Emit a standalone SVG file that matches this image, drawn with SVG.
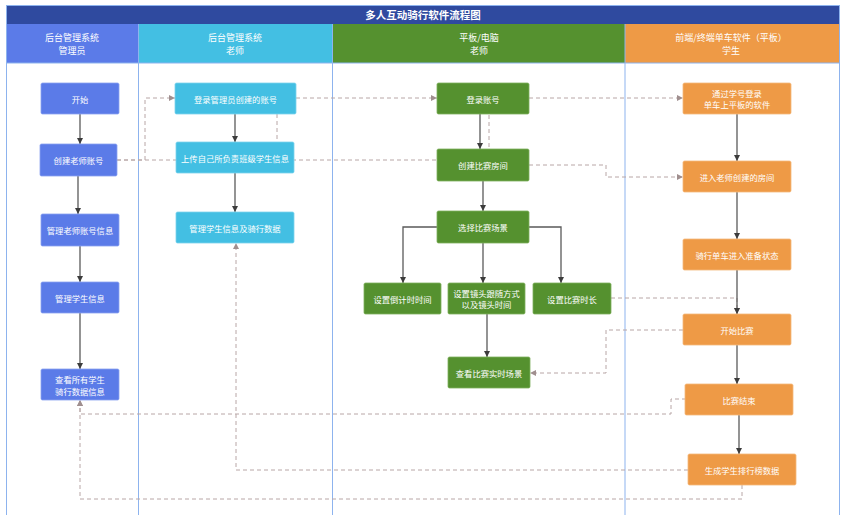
<svg xmlns="http://www.w3.org/2000/svg" width="855" height="515" viewBox="0 0 855 515">
<style>
text{font-family:"Noto Sans CJK SC","Noto Sans",sans-serif;fill:#fff;text-anchor:middle;dominant-baseline:central}
.h{font-size:9px}
.n{font-size:8.3px}
.lane{stroke:#8db3ee;stroke-width:1;fill:none}
.s{stroke:#5a5a5a;stroke-width:1.3;fill:none;marker-end:url(#as)}
.d{stroke:#b8a6a6;stroke-width:1;stroke-dasharray:4 3;fill:none}
.da{marker-end:url(#ad)}
.b1{fill:#5b7be8;stroke:#8aa2f0;stroke-width:0.8}
.b2{fill:#43bfe3;stroke:#7dd3ec;stroke-width:0.8}
.b3{fill:#55912f;stroke:#7fb05d;stroke-width:0.8}
.b4{fill:#ee9a46;stroke:#f4b97c;stroke-width:0.8}
</style>
<defs>
<marker id="as" viewBox="0 0 8 8" refX="8" refY="4" markerWidth="6" markerHeight="6" markerUnits="userSpaceOnUse" orient="auto"><path d="M0,0L8,4L0,8z" fill="#3c3c3c"/></marker>
<marker id="ad" viewBox="0 0 8 8" refX="8" refY="4" markerWidth="6" markerHeight="6" markerUnits="userSpaceOnUse" orient="auto"><path d="M0,0L8,4L0,8z" fill="#a08f8f"/></marker>
</defs>
<rect width="855" height="515" fill="#fff"/>
<g id="frame">
<rect x="6" y="5" width="834" height="19" fill="#2f4a9f"/>
<text x="423" y="14.5" style="font-size:10.5px;font-weight:bold">多人互动骑行软件流程图</text>
<rect x="6" y="24" width="132.5" height="39" fill="#5b7be8"/>
<rect x="138.5" y="24" width="194" height="39" fill="#43bfe3"/>
<rect x="332.5" y="24" width="292.5" height="39" fill="#55912f"/>
<rect x="625" y="24" width="215" height="39" fill="#ee9a46"/>
<text class="h" x="72" y="37.5">后台管理系统</text>
<text class="h" x="72" y="50.5">管理员</text>
<text class="h" x="235" y="37.5">后台管理系统</text>
<text class="h" x="235" y="50.5">老师</text>
<text class="h" x="479" y="37.5">平板/电脑</text>
<text class="h" x="479" y="50.5">老师</text>
<text class="h" x="731" y="37.5">前端/终端单车软件（平板）</text>
<text class="h" x="731" y="50.5">学生</text>
<path class="lane" d="M6.5,5V515M138.5,24V515M332.5,24V515M625,24V515M839.5,5V515M6,5.5H840M6,63H840"/>
</g>
<g id="connectors">
<path class="d" d="M117,160H489V114"/>
<path class="d" d="M277,114V160"/>
<path class="d da" d="M117,160H145V98H175"/>
<path class="d da" d="M296,98H437"/>
<path class="d da" d="M529,98H683"/>
<path class="d da" d="M529,165H606V177H683"/>
<path class="d da" d="M611,298H737V314"/>
<path class="d da" d="M683,330H606V373H530"/>
<path class="d da" d="M686,399H671V414H80V400"/>
<path class="d da" d="M742,485V499H80V400"/>
<path class="d da" d="M688,470H236V243"/>
<path class="s" d="M80,114V144"/>
<path class="s" d="M78,176V214"/>
<path class="s" d="M80,246V282"/>
<path class="s" d="M80,313V369"/>
<path class="s" d="M235,114V142"/>
<path class="s" d="M235,173V212"/>
<path class="s" d="M480,114V149"/>
<path class="s" d="M483,181V211"/>
<path class="s" d="M437,227H403V283"/>
<path class="s" d="M483,243V283"/>
<path class="s" d="M528,227H561V283"/>
<path class="s" d="M487,314V357"/>
<path class="s" d="M737,114V161"/>
<path class="s" d="M737,192V239"/>
<path class="s" d="M737,270V314"/>
<path class="s" d="M737,345V384"/>
<path class="s" d="M739,415V454"/>
</g>
<g id="n-start"><rect class="b1" x="41" y="83" width="78" height="31" rx="1.5"/><text class="n" x="80" y="98.5">开始</text></g>
<g id="n-create-teacher"><rect class="b1" x="40" y="144" width="77" height="32" rx="1.5"/><text class="n" x="78.5" y="160">创建老师账号</text></g>
<g id="n-manage-teacher"><rect class="b1" x="41" y="214" width="78" height="32" rx="1.5"/><text class="n" x="80" y="230">管理老师账号信息</text></g>
<g id="n-manage-student"><rect class="b1" x="41" y="282" width="78" height="31" rx="1.5"/><text class="n" x="80" y="297.5">管理学生信息</text></g>
<g id="n-view-all"><rect class="b1" x="41" y="369" width="78" height="31" rx="1.5"/><text class="n" x="80" y="379">查看所有学生</text><text class="n" x="80" y="390.5">骑行数据信息</text></g>
<g id="n-login-admin"><rect class="b2" x="175" y="83" width="121" height="31" rx="1.5"/><text class="n" x="235.5" y="98.5">登录管理员创建的账号</text></g>
<g id="n-upload"><rect class="b2" x="176" y="142" width="118" height="31" rx="1.5"/><text class="n" x="235" y="157.5">上传自己所负责班级学生信息</text></g>
<g id="n-manage-data"><rect class="b2" x="176" y="212" width="118" height="31" rx="1.5"/><text class="n" x="235" y="227.5">管理学生信息及骑行数据</text></g>
<g id="n-login"><rect class="b3" x="437" y="83" width="92" height="31" rx="1.5"/><text class="n" x="483" y="98.5">登录账号</text></g>
<g id="n-room"><rect class="b3" x="437" y="149" width="92" height="32" rx="1.5"/><text class="n" x="483" y="165">创建比赛房间</text></g>
<g id="n-scene"><rect class="b3" x="437" y="211" width="92" height="32" rx="1.5"/><text class="n" x="483" y="227">选择比赛场景</text></g>
<g id="n-countdown"><rect class="b3" x="364" y="283" width="77" height="31" rx="1.5"/><text class="n" x="402.5" y="298.5">设置倒计时时间</text></g>
<g id="n-camera"><rect class="b3" x="448" y="283" width="77" height="31" rx="1.5"/><text class="n" x="486.5" y="292.5">设置镜头跟随方式</text><text class="n" x="486.5" y="304">以及镜头时间</text></g>
<g id="n-duration"><rect class="b3" x="533" y="283" width="78" height="31" rx="1.5"/><text class="n" x="572" y="298.5">设置比赛时长</text></g>
<g id="n-live"><rect class="b3" x="448" y="357" width="82" height="31" rx="1.5"/><text class="n" x="489" y="372.5">查看比赛实时场景</text></g>
<g id="n-stu-login"><rect class="b4" x="683" y="83" width="108" height="31" rx="1.5"/><text class="n" x="737" y="92.5">通过学号登录</text><text class="n" x="737" y="104">单车上平板的软件</text></g>
<g id="n-enter-room"><rect class="b4" x="683" y="161" width="108" height="31" rx="1.5"/><text class="n" x="737" y="176.5">进入老师创建的房间</text></g>
<g id="n-ready"><rect class="b4" x="683" y="239" width="108" height="31" rx="1.5"/><text class="n" x="737" y="254.5">骑行单车进入准备状态</text></g>
<g id="n-start-race"><rect class="b4" x="683" y="314" width="108" height="31" rx="1.5"/><text class="n" x="737" y="329.5">开始比赛</text></g>
<g id="n-end-race"><rect class="b4" x="685" y="384" width="108" height="31" rx="1.5"/><text class="n" x="739" y="399.5">比赛结束</text></g>
<g id="n-rank"><rect class="b4" x="688" y="454" width="108" height="31" rx="1.5"/><text class="n" x="742" y="469.5">生成学生排行榜数据</text></g>
</svg>
